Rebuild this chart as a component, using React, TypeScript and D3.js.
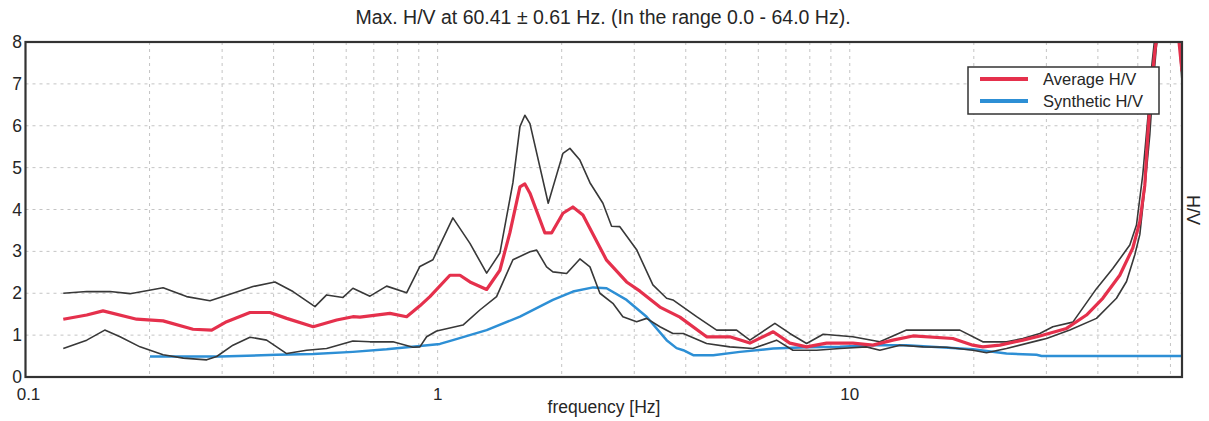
import { useEffect, useRef } from "react";
import * as d3 from "d3";

// Average H/V curve (red)
const avgFreq = [
  0.1235, 0.1408, 0.1542, 0.1861, 0.2157, 0.2549, 0.283, 0.3077, 0.3505, 0.3919,
  0.4302, 0.4991, 0.5689, 0.6229, 0.6478, 0.7661, 0.841, 0.9057, 0.9578, 1.071,
  1.133, 1.198, 1.315, 1.416, 1.497, 1.584, 1.628, 1.675, 1.821, 1.89, 2.014,
  2.129, 2.252, 2.57, 2.874, 3.097, 3.462, 3.871, 4.494, 5.118, 5.724, 6.52,
  7.155, 7.858, 8.785, 10.17, 11.38, 12.72, 14.23, 17.79, 19.89, 21.03, 23.13,
  26.3, 28.92, 33.57, 37.53, 41.11, 45.21, 48.62, 50.56, 51.99, 52.86, 53.97,
  54.97, 58.13, 61.47, 64,
];
const avgHV = [
  1.38, 1.48, 1.58, 1.38, 1.34, 1.14, 1.12, 1.32, 1.54, 1.54, 1.4, 1.2, 1.36,
  1.44, 1.43, 1.52, 1.44, 1.7, 1.92, 2.43, 2.43, 2.27, 2.09, 2.55, 3.44, 4.54,
  4.61, 4.39, 3.44, 3.44, 3.91, 4.06, 3.87, 2.79, 2.27, 2.05, 1.67, 1.43, 0.96,
  0.96, 0.81, 1.08, 0.81, 0.72, 0.81, 0.81, 0.76, 0.88, 0.98, 0.92, 0.76, 0.72,
  0.76, 0.88, 0.98, 1.16, 1.48, 1.88, 2.43, 3.08, 3.71, 4.58, 5.78, 6.97, 7.76,
  9.5, 9.0, 7.3,
];

// Upper bound (grey)
const upFreq = [
  0.1235, 0.1408, 0.1603, 0.1793, 0.2157, 0.246, 0.2803, 0.3187, 0.3564, 0.4029,
  0.4457, 0.5039, 0.5378, 0.5893, 0.6229, 0.6851, 0.7521, 0.841, 0.9057, 0.9741,
  1.089, 1.198, 1.315, 1.416, 1.523, 1.584, 1.628, 1.675, 1.855, 2.014, 2.094,
  2.214, 2.342, 2.518, 2.643, 2.768, 3.04, 3.329, 3.594, 3.723, 4.25, 4.753,
  5.313, 5.724, 6.582, 7.155, 7.858, 8.621, 10.17, 11.83, 13.73, 15.91, 18.5,
  21.03, 24.01, 26.3, 28.92, 31.1, 34.78, 39.69, 43.48, 47.81, 49.63, 51.4,
  52.86, 53.97, 54.97, 58.13, 61.47, 64,
];
const upHV = [
  2.0, 2.04, 2.04, 1.99, 2.13, 1.92, 1.82, 2.0, 2.16, 2.27, 2.04, 1.68, 1.96,
  1.9, 2.12, 1.93, 2.17, 2.01, 2.64, 2.8, 3.8, 3.19, 2.48, 2.96, 4.64, 5.98,
  6.25, 6.05, 4.15, 5.34, 5.46, 5.18, 4.64, 4.15, 3.6, 3.59, 3.04, 2.2, 1.88,
  1.84, 1.44, 1.12, 1.12, 0.88, 1.28, 1.04, 0.8, 1.02, 0.96, 0.84, 1.12, 1.12,
  1.12, 0.84, 0.84, 0.92, 1.04, 1.2, 1.31, 2.11, 2.59, 3.15, 3.63, 4.83, 6.17,
  7.37, 8.1, 10, 9.5, 7.05,
];

// Lower bound (grey)
const lowFreq = [
  0.1235, 0.1408, 0.1557, 0.1696, 0.1896, 0.2157, 0.2415, 0.2752, 0.291, 0.3187,
  0.3505, 0.3847, 0.4302, 0.4811, 0.5378, 0.6229, 0.6851, 0.7791, 0.8712, 0.9057,
  0.9403, 0.9945, 1.152, 1.266, 1.39, 1.523, 1.675, 1.739, 1.838, 1.904, 2.056,
  2.214, 2.342, 2.476, 2.662, 2.815, 3.04, 3.214, 3.462, 3.723, 3.944, 4.494,
  5.118, 5.821, 6.644, 7.278, 8.309, 9.462, 10.98, 11.83, 13.23, 15.07, 17.18,
  19.89, 21.47, 24.01, 28.92, 30.03, 34.2, 39.69, 44.38, 46.94, 49.17, 50.56,
  51.99, 53.46, 54.45, 55.5, 58.13, 61.47, 64,
];
const lowHV = [
  0.68, 0.88, 1.12, 0.96, 0.72, 0.53, 0.45, 0.41, 0.49, 0.76, 0.95, 0.88, 0.56,
  0.64, 0.68, 0.86, 0.84, 0.84, 0.71, 0.72, 0.96, 1.1, 1.24, 1.6, 1.92, 2.8,
  2.99, 3.03, 2.63, 2.51, 2.47, 2.82, 2.63, 2.0, 1.76, 1.44, 1.32, 1.4, 1.2,
  1.04, 1.04, 0.8, 0.72, 0.68, 0.88, 0.64, 0.64, 0.68, 0.72, 0.64, 0.76, 0.72,
  0.71, 0.64, 0.58, 0.68, 0.88, 0.92, 1.12, 1.4, 1.88, 2.28, 2.92, 3.4, 4.51,
  5.78, 6.97, 7.92, 9.3, 9.0, 7.4,
];

// Synthetic H/V (blue)
const synFreq = [
  0.2005, 0.2965, 0.4067, 0.4991, 0.6229, 0.7521, 0.9057, 1.013, 1.089, 1.315,
  1.584, 1.904, 2.13, 2.385, 2.57, 2.874, 3.214, 3.594, 3.8, 3.944, 4.17, 4.663,
  5.412, 6.52, 7.858, 9.462, 11.38, 13.73, 16.55, 19.89, 24.01, 28.39, 29.2, 64,
];
const synHV = [
  0.49, 0.49, 0.53, 0.55, 0.6, 0.66, 0.74, 0.79, 0.88, 1.12, 1.44, 1.84, 2.04,
  2.14, 2.12, 1.84, 1.44, 0.88, 0.69, 0.64, 0.52, 0.52, 0.6, 0.68, 0.71, 0.72,
  0.76, 0.76, 0.71, 0.66, 0.56, 0.53, 0.5, 0.5,
];

const yTicks = [0, 1, 2, 3, 4, 5, 6, 7, 8];
const xTickLabels = [0.1, 1, 10];
const titleText = "Max. H/V at 60.41 \u00b1 0.61 Hz. (In the range 0.0 - 64.0 Hz).";
const legendItems = [
  { label: "Average H/V", color: "#e5304c" },
  { label: "Synthetic H/V", color: "#2d8fd5" },
];

export default function App() {
  const svgRef = useRef<SVGSVGElement>(null);

  useEffect(() => {
    if (!svgRef.current) return;
    const svg = d3.select(svgRef.current);
    svg.selectAll("*").remove();

    const W = 1209;
    const H = 421;
    const left = 25.5;
    const right = 1182;
    const top = 42;
    const bottom = 377;
    const font = "'Liberation Sans', Arial, sans-serif";
    const ink = "#262626";

    svg.attr("width", W).attr("height", H);

    const x = d3.scaleLog().domain([0.1, 64]).range([left, right]);
    const y = d3.scaleLinear().domain([0, 8]).range([bottom, top]);

    svg.append("rect").attr("width", W).attr("height", H).attr("fill", "#fff");

    // grid
    const gridX: number[] = [];
    [0.1, 1, 10].forEach((d) => {
      for (let k = 1; k <= 9; k++) {
        const v = d * k;
        if (v > 0.1 && v < 64) gridX.push(v);
      }
    });
    const grid = svg.append("g").attr("stroke", "#c4c4c4").attr("stroke-width", 1).attr("stroke-dasharray", "3,4");
    gridX.forEach((v) => {
      grid.append("line").attr("x1", x(v)).attr("x2", x(v)).attr("y1", top).attr("y2", bottom);
    });
    yTicks.slice(1, -1).forEach((v) => {
      grid.append("line").attr("x1", left).attr("x2", right).attr("y1", y(v)).attr("y2", y(v));
    });

    // clip
    svg.append("defs").append("clipPath").attr("id", "plotClip")
      .append("rect").attr("x", left).attr("y", top).attr("width", right - left).attr("height", bottom - top);

    const line = (fs: number[], vs: number[]) =>
      d3.line<number>().x((_, i) => x(fs[i])).y((d) => y(d))(vs) as string;

    const curves = svg.append("g").attr("clip-path", "url(#plotClip)").attr("fill", "none")
      .attr("stroke-linejoin", "round");
    curves.append("path").attr("d", line(synFreq, synHV)).attr("stroke", "#2d8fd5").attr("stroke-width", 2.5);
    curves.append("path").attr("d", line(upFreq, upHV)).attr("stroke", "#383838").attr("stroke-width", 1.6);
    curves.append("path").attr("d", line(lowFreq, lowHV)).attr("stroke", "#383838").attr("stroke-width", 1.6);
    curves.append("path").attr("d", line(avgFreq, avgHV)).attr("stroke", "#e5304c").attr("stroke-width", 3.2);

    // frame
    svg.append("rect").attr("x", left).attr("y", top).attr("width", right - left).attr("height", bottom - top)
      .attr("fill", "none").attr("stroke", "#333").attr("stroke-width", 2.2);

    // y tick labels
    yTicks.forEach((v) => {
      svg.append("text").attr("x", 17).attr("y", y(v) + 6).attr("text-anchor", "middle")
        .attr("font-family", font).attr("font-size", 17.5).attr("fill", ink).text(String(v));
    });

    // x tick labels
    xTickLabels.forEach((v) => {
      svg.append("text").attr("x", x(v) + (v === 0.1 ? 3 : 0)).attr("y", 400).attr("text-anchor", "middle")
        .attr("font-family", font).attr("font-size", 17).attr("fill", ink).text(String(v));
    });

    // axis titles
    svg.append("text").attr("x", 604).attr("y", 413).attr("text-anchor", "middle")
      .attr("font-family", font).attr("font-size", 17.5).attr("fill", ink).text("frequency [Hz]");
    svg.append("text").attr("transform", "translate(1187,210) rotate(90)").attr("text-anchor", "middle")
      .attr("font-family", font).attr("font-size", 18).attr("fill", ink).text("H/V");

    // title
    svg.append("text").attr("x", 603).attr("y", 24).attr("text-anchor", "middle")
      .attr("font-family", font).attr("font-size", 19.5).attr("fill", ink).text(titleText);

    // legend
    const lg = svg.append("g");
    lg.append("rect").attr("x", 968).attr("y", 67).attr("width", 191).attr("height", 47)
      .attr("fill", "#fff").attr("stroke", "#333").attr("stroke-width", 1.5);
    legendItems.forEach((item, i) => {
      const cy = 79 + i * 22;
      lg.append("line").attr("x1", 980).attr("x2", 1028).attr("y1", cy).attr("y2", cy)
        .attr("stroke", item.color).attr("stroke-width", 4);
      lg.append("text").attr("x", 1043).attr("y", cy + 6).attr("font-family", font).attr("font-size", 16.5)
        .attr("fill", ink).text(item.label);
    });
  }, []);

  return (
    <div style={{ position: "absolute", left: 0, top: 0 }}>
      <svg ref={svgRef}></svg>
    </div>
  );
}
